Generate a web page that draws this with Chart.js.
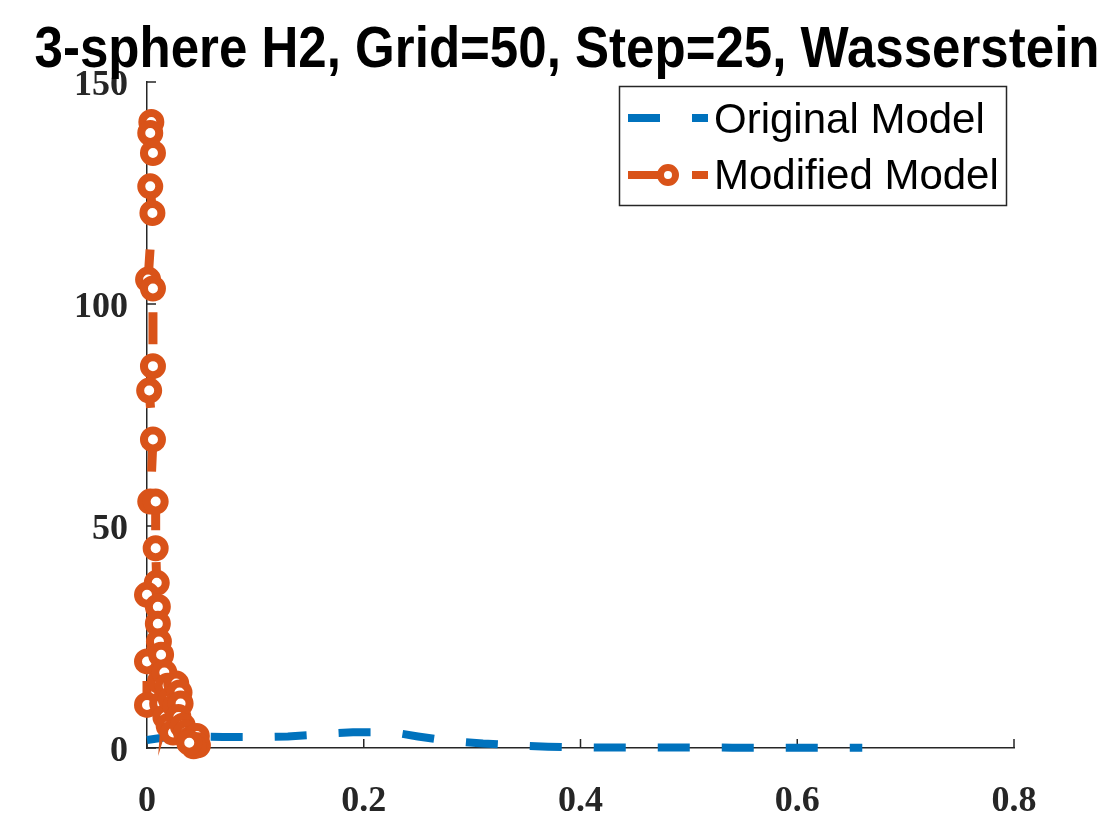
<!DOCTYPE html>
<html><head><meta charset="utf-8">
<script src="https://cdn.jsdelivr.net/npm/chart.js@4/dist/chart.umd.min.js"></script>
<style>html,body{margin:0;padding:0;background:#fff;}canvas{display:block;}</style>
</head><body>
<canvas id="c" width="1120" height="840"></canvas>
<script>
const titleText = "3-sphere H2, Grid=50, Step=25, Wasserstein";
const seriesNames = ["Original Model", "Modified Model"];
const xTicks = [0, 0.2, 0.4, 0.6, 0.8];
const yTicks = [0, 50, 100, 150];

const originalX = [0, 0.025, 0.05, 0.07, 0.09, 0.11, 0.13, 0.15, 0.17, 0.19, 0.21, 0.23, 0.25, 0.27, 0.29, 0.31, 0.33, 0.35, 0.37, 0.39, 0.42, 0.46, 0.50, 0.54, 0.58, 0.62, 0.66];
const originalY = [1.8, 2.7, 2.6, 2.5, 2.5, 2.5, 2.6, 2.9, 3.3, 3.55, 3.55, 3.4, 2.6, 1.9, 1.4, 1.0, 0.75, 0.5, 0.3, 0.2, 0.12, 0.1, 0.1, 0.08, 0.07, 0.06, 0.05];

const modifiedX = [0.004, 0.003, 0.0055, 0.003, 0.005, 0.001, 0.0055, 0.0055, 0.002, 0.0055, 0.003, 0.008, 0.008, 0.009, 0.0, 0.010, 0.010, 0.0, 0.0,
                   0.011, 0.013, 0.012, 0.016, 0.014, 0.019, 0.017, 0.022, 0.020, 0.027, 0.030, 0.026, 0.031, 0.029, 0.024, 0.033, 0.036, 0.040, 0.046, 0.047, 0.043, 0.039];
const modifiedY = [141, 138.5, 134, 126.5, 120.5, 105.5, 103.5, 86, 80.5, 69.5, 55.5, 55.5, 45, 37.2, 34.5, 31.8, 28, 19.5, 9.7,
                   24, 21, 15, 17, 10, 14, 7, 11, 5, 14.5, 12.5, 9.5, 10, 7, 3.5, 5, 3.5, 2, 2.7, 0.6, 0.4, 1.2];

const BLUE = '#0072BD', ORANGE = '#D95319', AXIS = '#262626';

const toPts = (xs, ys) => xs.map((x, i) => ({x: x, y: ys[i]}));

const decor = {
  id: 'decor',
  beforeDatasetsDraw(chart) {
    const ctx = chart.ctx, xs = chart.scales.x, ys = chart.scales.y;
    ctx.save();
    ctx.strokeStyle = AXIS; ctx.lineWidth = 1.5;
    ctx.beginPath();
    xTicks.forEach(v => { const p = xs.getPixelForValue(v); ctx.moveTo(p, ys.bottom); ctx.lineTo(p, ys.bottom - 9); });
    yTicks.forEach(v => { const p = ys.getPixelForValue(v); ctx.moveTo(xs.left, p); ctx.lineTo(xs.left + 9, p); });
    ctx.stroke();
    ctx.restore();
  },
  afterDraw(chart) {
    const ctx = chart.ctx;
    ctx.save();
    ctx.font = 'bold 58px "Liberation Sans", Arial, sans-serif';
    ctx.fillStyle = '#000';
    ctx.textAlign = 'center'; ctx.textBaseline = 'alphabetic';
    const w = ctx.measureText(titleText).width;
    const sx = 1065 / w;
    ctx.translate(567, 67); ctx.scale(sx, 1);
    ctx.fillText(titleText, 0, 0);
    ctx.restore();
    ctx.save();
    ctx.fillStyle = '#fff';
    ctx.fillRect(619.5, 86.5, 387, 119);
    ctx.strokeStyle = AXIS; ctx.lineWidth = 1.5;
    ctx.strokeRect(619.5, 86.5, 387, 119);
    ctx.lineCap = 'butt';
    ctx.setLineDash([32, 32]);
    ctx.lineWidth = 8;
    ctx.strokeStyle = BLUE;
    ctx.beginPath(); ctx.moveTo(628, 118); ctx.lineTo(708, 118); ctx.stroke();
    ctx.strokeStyle = ORANGE;
    ctx.beginPath(); ctx.moveTo(628, 175); ctx.lineTo(708, 175); ctx.stroke();
    ctx.setLineDash([]);
    ctx.lineWidth = 7; ctx.fillStyle = '#fff';
    ctx.beginPath(); ctx.arc(668, 175, 7.5, 0, Math.PI * 2); ctx.fill(); ctx.stroke();
    ctx.fillStyle = '#000';
    ctx.font = '42px "Liberation Sans", Arial, sans-serif';
    ctx.textAlign = 'left'; ctx.textBaseline = 'alphabetic';
    ctx.fillText(seriesNames[0], 714, 133);
    ctx.fillText(seriesNames[1], 714, 189);
    ctx.restore();
  }
};

new Chart(document.getElementById('c'), {
  type: 'scatter',
  data: {
    datasets: [
      {
        label: seriesNames[1], data: toPts(modifiedX, modifiedY), showLine: true,
        borderColor: ORANGE, borderWidth: 9, borderDash: [32, 32],
        pointRadius: 9, pointBorderWidth: 8, pointBackgroundColor: '#fff', pointBorderColor: ORANGE,
        pointHoverRadius: 9, clip: false, order: 0, tension: 0
      },
      {
        label: seriesNames[0], data: toPts(originalX, originalY), showLine: true,
        borderColor: BLUE, borderWidth: 8, borderDash: [32, 32], borderCapStyle: 'butt',
        pointRadius: 0, clip: false, order: 1, tension: 0
      }
    ]
  },
  options: {
    responsive: false, animation: false, devicePixelRatio: 1,
    layout: { padding: { top: 82, right: 106, left: 0, bottom: 0 } },
    plugins: { legend: { display: false }, title: { display: false }, tooltip: { enabled: false } },
    scales: {
      x: {
        type: 'linear', min: 0, max: 0.8,
        afterBuildTicks: s => { s.ticks = xTicks.map(v => ({value: v})); },
        afterFit: s => { s.height = 92; },
        grid: { display: false, drawTicks: false },
        border: { display: true, color: AXIS, width: 1.5 },
        ticks: { color: AXIS, padding: 32, maxRotation: 0, autoSkip: false,
          font: { family: '"Liberation Serif", serif', size: 36, weight: 'bold' },
          callback: v => String(v) }
      },
      y: {
        type: 'linear', min: 0, max: 150,
        afterBuildTicks: s => { s.ticks = yTicks.map(v => ({value: v})); },
        afterFit: s => { s.width = 147; },
        grid: { display: false, drawTicks: false },
        border: { display: true, color: AXIS, width: 1.5 },
        ticks: { color: AXIS, padding: 19, autoSkip: false, labelOffset: 4,
          font: { family: '"Liberation Serif", serif', size: 36, weight: 'bold' },
          callback: v => String(v) }
      }
    }
  },
  plugins: [decor]
});
</script>
</body></html>
